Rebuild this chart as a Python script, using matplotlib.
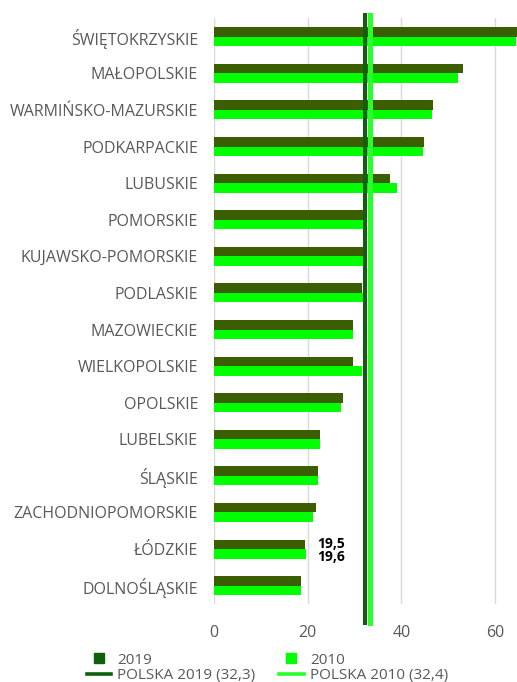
import numpy as np
import matplotlib
matplotlib.use("Agg")
import matplotlib.pyplot as plt
import matplotlib.transforms as mtransforms
from matplotlib.lines import Line2D


# ==========================
# Data
# ==========================

regions = [
    "ŚWIĘTOKRZYSKIE",
    "MAŁOPOLSKIE",
    "WARMIŃSKO-MAZURSKIE",
    "PODKARPACKIE",
    "LUBUSKIE",
    "POMORSKIE",
    "KUJAWSKO-POMORSKIE",
    "PODLASKIE",
    "MAZOWIECKIE",
    "WIELKOPOLSKIE",
    "OPOLSKIE",
    "LUBELSKIE",
    "ŚLĄSKIE",
    "ZACHODNIOPOMORSKIE",
    "ŁÓDZKIE",
    "DOLNOŚLĄSKIE",
]

values_2019 = [64.9, 53.1, 46.7, 44.9, 37.5, 32.6, 31.8, 31.6, 29.7, 29.6,
               27.6, 22.7, 22.1, 21.8, 19.5, 18.6]

values_2010 = [64.4, 52.1, 46.6, 44.7, 39.0, 32.2, 31.8, 31.8, 29.7, 31.7,
               27.2, 22.7, 22.2, 21.1, 19.6, 18.6]

polska_2019 = 32.3
polska_2010 = 32.4

x_ticks = [0, 20, 40, 60]

labelled_region = "ŁÓDZKIE"


# ==========================
# Style
# ==========================

plt.rcParams["font.family"] = ["Open Sans", "DejaVu Sans"]

dark_green = "#3B5F00"
light_green = "#00FF00"
line_dark = "#0E5F0E"
line_light = "#2BFF2B"
text_gray = "#595959"
grid_gray = "#D9D9D9"


# ==========================
# Figure
# ==========================

fig = plt.figure(figsize=(5.17, 6.82), dpi=100)
ax = fig.add_axes([0.414, 0.1144, 0.586, 0.8585])

y = np.arange(len(regions))
h = 0.26

ax.barh(y - h / 2, values_2019, height=h, color=dark_green, zorder=2)
ax.barh(y + h / 2, values_2010, height=h, color=light_green, zorder=2)

# national averages, the 2010 line nudged right so both stay visible
line10 = ax.axvline(polska_2010, ymin=-0.032, ymax=1.006, color=line_light,
                    lw=3.6, clip_on=False, zorder=3)
line10.set_transform(ax.get_xaxis_transform()
                     + mtransforms.ScaledTranslation(3.2 / 72, 0, fig.dpi_scale_trans))
ax.axvline(polska_2019, ymin=-0.032, ymax=1.006, color=line_dark,
           lw=2.9, clip_on=False, zorder=4)

# value labels for one region
i = regions.index(labelled_region)
for val, yy in [(values_2019[i], y[i] - h / 2), (values_2010[i], y[i] + h / 2 + 0.08)]:
    ax.annotate(
        f"{val:.1f}".replace(".", ","),
        xy=(max(values_2019[i], values_2010[i]), yy),
        xytext=(8, 0), textcoords="offset points",
        ha="left", va="center",
        fontsize=10, fontweight="bold", color="black",
    )

ax.set_ylim(len(regions) - 0.5, -0.5)
ax.set_xlim(0, 64.7)

ax.set_yticks(y)
ax.set_yticklabels(regions, fontsize=11.5, color=text_gray)
ax.set_xticks(x_ticks)
ax.set_xticklabels([str(t) for t in x_ticks], fontsize=11.5, color=text_gray)

ax.tick_params(axis="y", length=0, pad=11.5)
ax.tick_params(axis="x", length=0, pad=15)

ax.grid(axis="x", color=grid_gray, lw=1, zorder=0)
ax.set_axisbelow(True)
for s in ax.spines.values():
    s.set_visible(False)


# ==========================
# Legend
# ==========================

handles = [
    Line2D([], [], marker="s", ls="none", color=line_dark, markersize=7),
    Line2D([], [], color=line_dark, lw=2.6),
    Line2D([], [], marker="s", ls="none", color=light_green, markersize=7),
    Line2D([], [], color=line_light, lw=2.6),
]
labels = [
    "2019",
    f"POLSKA 2019 ({polska_2019:.1f})".replace(".", ","),
    "2010",
    f"POLSKA 2010 ({polska_2010:.1f})".replace(".", ","),
]

fig.legend(
    handles, labels,
    ncol=2, loc="upper left", bbox_to_anchor=(0.168, 0.043),
    frameon=False, fontsize=11, labelcolor=text_gray,
    handlelength=1.6, handletextpad=0.4, columnspacing=1.55,
    labelspacing=0.05, borderpad=0, borderaxespad=0,
)

fig.savefig("out.png", dpi=100)
